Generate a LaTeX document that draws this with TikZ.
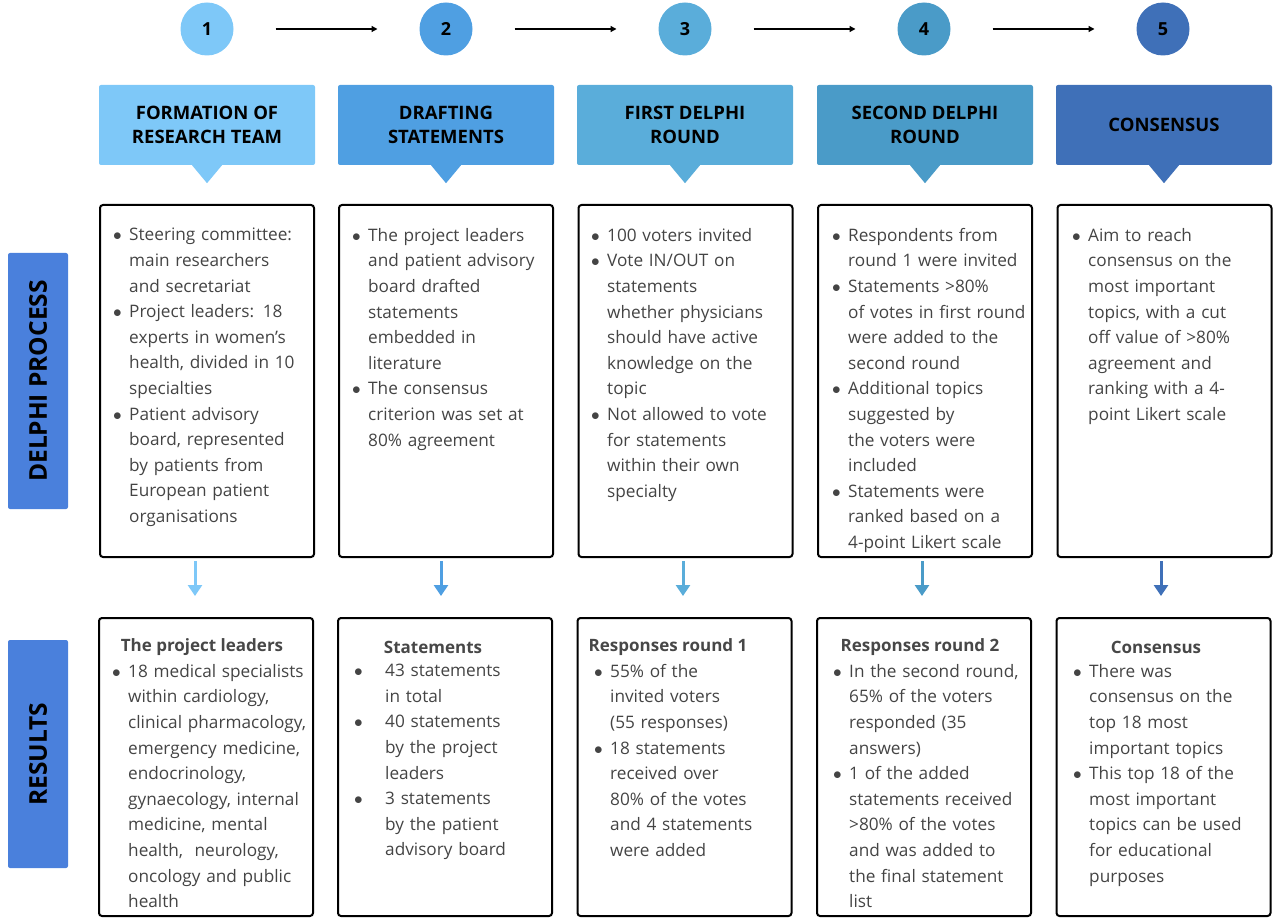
\documentclass[tikz,border=0pt]{standalone}
\usepackage{fontspec}
\setmainfont{Open Sans}
\usepackage{tkz-graph}
\usetikzlibrary{arrows.meta}
\definecolor{stepone}{HTML}{7EC8F8}
\definecolor{steptwo}{HTML}{4F9FE2}
\definecolor{stepthree}{HTML}{5AADDA}
\definecolor{stepfour}{HTML}{4A9BC8}
\definecolor{stepfive}{HTML}{3F70B8}
\definecolor{sideblue}{HTML}{4A80DC}
\definecolor{bodygray}{HTML}{444444}
\definecolor{titlegray}{HTML}{474747}
\newcommand\itm[2][16pt]{\hangindent=#1\hangafter=1\noindent\makebox[#1][l]{$\bullet$}{\let\\\newline#2}\par}

\begin{document}
\begin{tikzpicture}[x = 1pt, y = -1pt]
\tikzstyle{VertexStyle}=[
shape = circle,
minimum size = 53pt,
inner sep = 0pt,
text = black,
font = \fontsize{18}{20}\selectfont\bfseries]
\tikzstyle{EdgeStyle}=[
line width = 1.3pt,
-{Triangle[length = 6pt, width = 6pt]},
shorten <= 42pt,
shorten >= 42pt]
\tikzstyle{head}=[minimum width = 216pt, minimum height = 80pt, rounded corners = 2pt, inner sep = 0pt, align = center, font = \fontsize{18.5}{24}\selectfont\bfseries]
\tikzstyle{frame}=[draw, line width = 2pt, rounded corners = 3pt, minimum width = 214pt, inner sep = 0pt]
\tikzstyle{body}=[anchor = north west, text width = 230pt, align = left, inner sep = 0pt, text = bodygray, font = \fontsize{17.2}{25.6}\selectfont]
\tikzstyle{title}=[inner sep = 0pt, text = titlegray, font = \fontsize{17}{20}\selectfont\bfseries]
\tikzstyle{drop}=[line width = 3pt, -{Triangle[length = 11pt, width = 14pt]}, shorten <= 3pt, shorten >= 21pt]
\tikzstyle{side}=[fill = sideblue, rounded corners = 2pt, minimum height = 60pt, inner sep = 0pt, rotate = 90, font = \fontsize{24.5}{26}\selectfont\bfseries]
\useasboundingbox (0,0) rectangle (1280,920);
\Vertex[style = {fill = stepone}, x = 207, y = 29, L = {1}]{n1}
\Vertex[style = {fill = steptwo}, x = 446, y = 29, L = {2}]{n2}
\Vertex[style = {fill = stepthree}, x = 685, y = 29, L = {3}]{n3}
\Vertex[style = {fill = stepfour}, x = 924, y = 29, L = {4}]{n4}
\Vertex[style = {fill = stepfive}, x = 1163, y = 29, L = {5}]{n5}
\Edge(n1)(n2)
\Edge(n2)(n3)
\Edge(n3)(n4)
\Edge(n4)(n5)
\node[head, fill = stepone] (h1) at (207,125) {FORMATION OF\\RESEARCH TEAM};
\node[head, fill = steptwo] (h2) at (446,125) {DRAFTING\\STATEMENTS};
\node[head, fill = stepthree] (h3) at (685,125) {FIRST DELPHI\\ROUND};
\node[head, fill = stepfour] (h4) at (925,125) {SECOND DELPHI\\ROUND};
\node[head, fill = stepfive] (h5) at (1164,125) {CONSENSUS};
\fill[stepone] ([xshift = -15pt]h1.south) -- ([xshift = 15pt]h1.south) -- ([yshift = -18pt]h1.south) -- cycle;
\fill[steptwo] ([xshift = -15pt]h2.south) -- ([xshift = 15pt]h2.south) -- ([yshift = -18pt]h2.south) -- cycle;
\fill[stepthree] ([xshift = -15pt]h3.south) -- ([xshift = 15pt]h3.south) -- ([yshift = -18pt]h3.south) -- cycle;
\fill[stepfour] ([xshift = -15pt]h4.south) -- ([xshift = 15pt]h4.south) -- ([yshift = -18pt]h4.south) -- cycle;
\fill[stepfive] ([xshift = -15pt]h5.south) -- ([xshift = 15pt]h5.south) -- ([yshift = -18pt]h5.south) -- cycle;
\node[side, minimum width = 256pt] (delphi) at (38,381) {DELPHI PROCESS};
\node[side, minimum width = 228pt] (results) at (38,754) {RESULTS};
\node[frame, minimum height = 352pt] (p1) at (207,381) {};
\node[frame, minimum height = 352pt] (p2) at (446,381) {};
\node[frame, minimum height = 352pt] (p3) at (685.5,381) {};
\node[frame, minimum height = 352pt] (p4) at (925,381) {};
\node[frame, minimum height = 352pt] (p5) at (1164.5,381) {};
\node[frame, minimum height = 298pt] (r1) at (206,767) {};
\node[frame, minimum height = 298pt] (r2) at (445,767) {};
\node[frame, minimum height = 298pt] (r3) at (684.5,767) {};
\node[frame, minimum height = 298pt] (r4) at (924,767) {};
\node[frame, minimum height = 298pt] (r5) at (1163.5,767) {};
\draw[drop, stepone] ([xshift = -12pt]p1.south) -- ([xshift = -11pt]r1.north);
\draw[drop, steptwo] ([xshift = -5pt]p2.south) -- ([xshift = -4pt]r2.north);
\draw[drop, stepthree] ([xshift = -2.5pt]p3.south) -- ([xshift = -1.5pt]r3.north);
\draw[drop, stepfour] ([xshift = -3pt]p4.south) -- ([xshift = -2pt]r4.north);
\draw[drop, stepfive] ([xshift = -3.5pt]p5.south) -- ([xshift = -2.5pt]r5.north);
\node[body] (t1) at (113,228) {%
\itm{Steering committee:\\main researchers\\and secretariat}
\itm{Project leaders: 18\\experts in women's\\health, divided in 10\\specialties}
\itm{Patient advisory\\board, represented\\by patients from\\European patient\\organisations}};
\node[body] (t2) at (352,228) {%
\itm{The project leaders\\and patient advisory\\board drafted\\statements\\embedded in\\literature}
\itm{The consensus\\criterion was set at\\80\% agreement}};
\node[body] (t3) at (591,228) {%
\itm{100 voters invited}
\itm{Vote IN/OUT on\\statements\\whether physicians\\should have active\\knowledge on the\\topic}
\itm{Not allowed to vote\\for statements\\within their own\\specialty}};
\node[body] (t4) at (832,228) {%
\itm{Respondents from\\round 1 were invited}
\itm{Statements >80\%\\of votes in first round\\were added to the\\second round}
\itm{Additional topics\\suggested by\\the voters were\\included}
\itm{Statements were\\ranked based on a\\4-point Likert scale}};
\node[body] (t5) at (1072,228) {%
\itm{Aim to reach\\consensus on the\\most important\\topics, with a cut\\off value of >80\%\\agreement and\\ranking with a 4-\\point Likert scale}};
\node[title] (s1) at (202,647) {The project leaders};
\node[title] (s2) at (433,647) {Statements};
\node[title] (s3) at (668,647) {Responses round 1};
\node[title] (s4) at (920,647) {Responses round 2};
\node[title] (s5) at (1156,647) {Consensus};
\node[body] (u1) at (112,664) {%
\itm{18 medical specialists\\within cardiology,\\clinical pharmacology,\\emergency medicine,\\endocrinology,\\gynaecology, internal\\medicine, mental\\health,\ \ neurology,\\oncology and public\\health}};
\node[body] (u2) at (354,664) {%
\itm[31pt]{43 statements\\in total}
\itm[31pt]{40 statements\\by the project\\leaders}
\itm[31pt]{3 statements\\by the patient\\advisory board}};
\node[body] (u3) at (594,664) {%
\itm{55\% of the\\invited voters\\(55 responses)}
\itm{18 statements\\received over\\80\% of the votes\\and 4 statements\\were added}};
\node[body] (u4) at (833,664) {%
\itm{In the second round,\\65\% of the voters\\responded (35\\answers)}
\itm{1 of the added\\statements received\\>80\% of the votes\\and was added to\\the final statement\\list}};
\node[body] (u5) at (1073,664) {%
\itm{There was\\consensus on the\\top 18 most\\important topics}
\itm{This top 18 of the\\most important\\topics can be used\\for educational\\purposes}};
\end{tikzpicture}
\end{document}
